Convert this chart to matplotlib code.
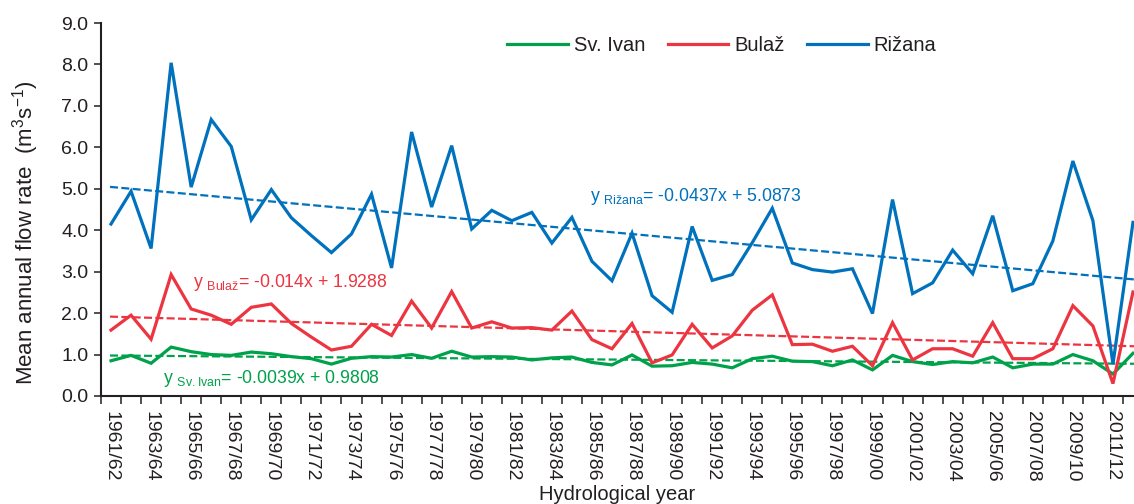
"""Mean annual flow rate of Sv. Ivan, Bulaž and Rižana with linear trends."""

import matplotlib
matplotlib.use("Agg")
import matplotlib.pyplot as plt
import numpy as np

plt.rcParams["font.family"] = ["Liberation Sans", "DejaVu Sans"]
plt.rcParams["mathtext.default"] = "regular"

years = [
    "1961/62", "1962/63", "1963/64", "1964/65", "1965/66", "1966/67", "1967/68",
    "1968/69", "1969/70", "1970/71", "1971/72", "1972/73", "1973/74", "1974/75",
    "1975/76", "1976/77", "1977/78", "1978/79", "1979/80", "1980/81", "1981/82",
    "1982/83", "1983/84", "1984/85", "1985/86", "1986/87", "1987/88", "1988/89",
    "1989/90", "1990/91", "1991/92", "1992/93", "1993/94", "1994/95", "1995/96",
    "1996/97", "1997/98", "1998/99", "1999/00", "2000/01", "2001/02", "2002/03",
    "2003/04", "2004/05", "2005/06", "2006/07", "2007/08", "2008/09", "2009/10",
    "2010/11", "2011/12", "2012/13",
]

sv_ivan = [0.85, 0.98, 0.79, 1.18, 1.07, 1.00, 0.98, 1.06, 1.02,
           0.95, 0.90, 0.77, 0.91, 0.95, 0.94, 1.00, 0.91,
           1.08, 0.94, 0.95, 0.94, 0.87, 0.92, 0.94, 0.81, 0.75,
           0.99, 0.72, 0.73, 0.81, 0.77, 0.68, 0.90, 0.96,
           0.84, 0.83, 0.73, 0.87, 0.63, 0.98, 0.83, 0.76, 0.83,
           0.80, 0.94, 0.68, 0.77, 0.77, 1.00, 0.85, 0.53, 1.03]
bulaz = [1.59, 1.95, 1.37, 2.93, 2.10, 1.95, 1.73, 2.14, 2.22,
         1.75, 1.42, 1.11, 1.20, 1.73, 1.46, 2.29, 1.64,
         2.52, 1.64, 1.79, 1.64, 1.65, 1.59, 2.05, 1.36, 1.14,
         1.75, 0.80, 0.99, 1.73, 1.16, 1.45, 2.07, 2.44,
         1.24, 1.25, 1.08, 1.20, 0.73, 1.77, 0.87, 1.14, 1.14,
         0.96, 1.77, 0.90, 0.90, 1.14, 2.18, 1.69, 0.30, 2.51]
rizana = [4.15, 4.94, 3.56, 8.04, 5.04, 6.67, 6.02, 4.25, 4.98,
          4.30, 3.87, 3.46, 3.91, 4.87, 3.09, 6.37, 4.56,
          6.04, 4.03, 4.48, 4.23, 4.43, 3.69, 4.31, 3.25, 2.78,
          3.93, 2.42, 2.02, 4.09, 2.79, 2.93, 3.70, 4.53,
          3.21, 3.05, 2.99, 3.07, 1.99, 4.74, 2.47, 2.73, 3.52,
          2.95, 4.35, 2.54, 2.71, 3.74, 5.67, 4.23, 0.77, 4.19]

# trend coefficients (slope, intercept) as printed on the chart, x = 1..n
trend_sv_ivan = (-0.0039, 0.9808)
trend_bulaz = (-0.014, 1.9288)
trend_rizana = (-0.0437, 5.0873)

GREEN = "#00A14B"
RED = "#EC3540"
BLUE = "#0071BC"
INK = "#231F20"

fig = plt.figure(figsize=(11.34, 5.04), dpi=100)
ax = fig.add_axes([101 / 1134, 1 - 396 / 504, 1 - 101 / 1134, (396 - 23) / 504])

x = np.arange(len(years))
x_end = len(years) - 0.95
xt = np.array([-0.05, x_end])

series = [
    ("Sv. Ivan", sv_ivan, trend_sv_ivan, GREEN),
    ("Bulaž", bulaz, trend_bulaz, RED),
    ("Rižana", rizana, trend_rizana, BLUE),
]
for name, vals, (a, b), color in series:
    ax.plot(x, vals, color=color, lw=2.3, label=name, solid_joinstyle="miter")
    ax.plot(xt, a * (xt + 1) + b, color=color, lw=1.6, ls=(0, (3.6, 1.5)))

ax.set_xlim(-0.5, x_end)
ax.set_ylim(0, 9)

ax.set_yticks(np.arange(0, 9.5, 1.0))
ax.set_yticklabels([f"{v:.1f}" for v in np.arange(0, 9.5, 1.0)])
ax.tick_params(axis="y", direction="out", length=5, width=1.1, color=INK,
               labelsize=14, labelcolor=INK, pad=4)

# tick marks on category boundaries, labels on every second category centre
ax.set_xticks(np.arange(-0.5, len(years) - 0.5, 1.0))
ax.set_xticklabels([])
ax.tick_params(axis="x", which="major", direction="out", length=6, width=1.1, color=INK)
ax.set_xticks(x[::2], minor=True)
ax.set_xticklabels(years[::2], minor=True, rotation=-90, fontsize=14, color=INK)
ax.tick_params(axis="x", which="minor", length=0, pad=11)

for side in ["top", "right"]:
    ax.spines[side].set_visible(False)
for side in ["left", "bottom"]:
    ax.spines[side].set_linewidth(1.5)
    ax.spines[side].set_color(INK)

ax.set_ylabel("Mean annual flow rate  (m$^{3}$s$^{-1}$)", fontsize=16, color=INK)
ax.yaxis.set_label_coords(-0.058, 0.437)
ax.set_xlabel("Hydrological year", fontsize=14.5, color=INK, labelpad=2)

ax.text(4.1, 2.75, "y $_{Bulaž}$= -0.014x + 1.9288", color=RED, fontsize=12.7, va="center")
ax.text(2.6, 0.43, "y $_{Sv. Ivan}$= -0.0039x + 0.9808", color=GREEN, fontsize=12.7, va="center")
ax.text(23.9, 4.81, "y $_{Rižana}$= -0.0437x + 5.0873", color=BLUE, fontsize=12.7, va="center")

ax.legend(loc="center", bbox_to_anchor=(0.601, 0.94), ncol=3, frameon=False,
          fontsize=14.5, handlelength=3.0, handletextpad=0.3, columnspacing=1.13,
          labelcolor=INK)

fig.savefig("out.png", dpi=100)
